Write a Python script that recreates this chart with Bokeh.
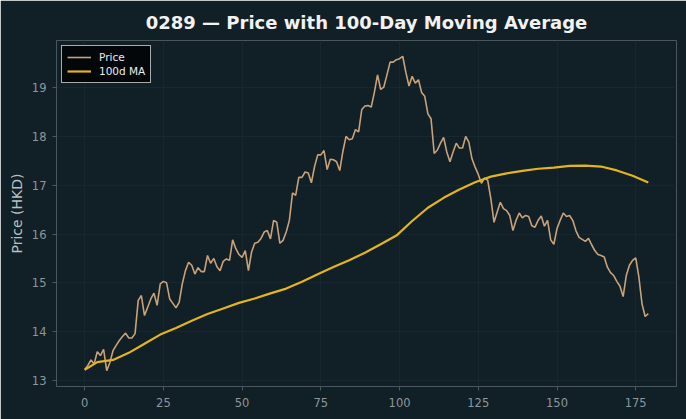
from bokeh.plotting import figure
from bokeh.models import Range1d, SingleIntervalTicker, Legend, LegendItem
from bokeh.embed import file_html
from bokeh.resources import INLINE

# ---- data ----
day = list(range(180))
price = [
    13.22, 13.31, 13.42, 13.34, 13.59, 13.51, 13.64, 13.20, 13.37, 13.61,
    13.72, 13.82, 13.90, 13.97, 13.87, 13.87, 13.96, 14.64, 14.74, 14.33,
    14.50, 14.67, 14.79, 14.54, 14.98, 15.03, 15.00, 14.67, 14.58, 14.49,
    14.60, 14.98, 15.25, 15.42, 15.36, 15.18, 15.31, 15.23, 15.23, 15.56,
    15.40, 15.50, 15.33, 15.25, 15.44, 15.49, 15.46, 15.88, 15.70, 15.58,
    15.52, 15.66, 15.25, 15.63, 15.81, 15.83, 15.91, 16.04, 16.07, 15.90,
    16.28, 16.24, 15.81, 15.87, 16.04, 16.28, 16.84, 16.79, 17.16, 17.16,
    17.27, 17.25, 17.05, 17.38, 17.62, 17.62, 17.71, 17.32, 17.53, 17.52,
    17.48, 17.30, 17.69, 18.00, 17.93, 17.95, 18.14, 18.09, 18.55, 18.62,
    18.63, 18.60, 18.90, 19.26, 18.96, 19.01, 19.26, 19.52, 19.52, 19.57,
    19.59, 19.64, 19.31, 19.03, 19.23, 19.09, 19.16, 18.90, 18.82, 18.46,
    18.36, 17.65, 17.72, 17.86, 17.98, 17.68, 17.48, 17.68, 17.86, 17.76,
    17.76, 18.00, 17.88, 17.54, 17.37, 17.22, 17.04, 17.15, 17.10, 16.72,
    16.24, 16.45, 16.65, 16.52, 16.48, 16.38, 16.07, 16.28, 16.43, 16.33,
    16.38, 16.36, 16.17, 16.14, 16.28, 16.37, 16.16, 16.28, 15.88, 15.79,
    16.11, 16.28, 16.43, 16.36, 16.38, 16.28, 16.07, 15.93, 15.89, 15.85,
    15.91, 15.78, 15.66, 15.58, 15.56, 15.53, 15.32, 15.21, 15.15, 15.03,
    14.93, 14.72, 15.15, 15.36, 15.46, 15.51, 15.12, 14.57, 14.31, 14.37,
]
ma_day = [0, 4, 9, 14, 19, 24, 29, 34, 39, 44, 49, 54, 59, 64, 69, 74, 79, 84,
          89, 94, 99, 104, 109, 114, 119, 124, 129, 134, 139, 144, 149, 154,
          159, 164, 169, 174, 179]
ma_value = [13.22, 13.376, 13.421, 13.566, 13.752, 13.940, 14.076, 14.225,
            14.360, 14.474, 14.589, 14.678, 14.784, 14.882, 15.022, 15.175,
            15.322, 15.461, 15.617, 15.789, 15.968, 16.267, 16.538, 16.741,
            16.910, 17.061, 17.175, 17.243, 17.292, 17.337, 17.360, 17.397,
            17.400, 17.382, 17.302, 17.193, 17.055]

title_text = "0289 \u2014 Price with 100-Day Moving Average"
y_label = "Price (HKD)"
series_names = ["Price", "100d MA"]

# ---- style ----
BG = "#111f26"
PRICE_C = "#c9a27a"
MA_C = "#e3b41c"
AXIS_C = "#4a575e"
TICK_TXT = "#8d979c"
GRID_C = "#172730"
FONT = "DejaVu Sans"

p = figure(width=686, height=419, output_backend="svg", toolbar_location=None,
           x_range=Range1d(-8.95, 187.95), y_range=Range1d(12.877, 19.963),
           min_border_left=56, min_border_right=10, min_border_top=40,
           min_border_bottom=33, background_fill_color=BG,
           border_fill_color=BG, outline_line_color=None)

p.title.text = title_text
p.title.align = "center"
p.title.text_font = FONT
p.title.text_font_size = "18px"
p.title.text_font_style = "bold"
p.title.text_color = "#f2f2f2"
p.title.standoff = 15

r_price = p.line(day, price, line_color=PRICE_C, line_width=1.6)
r_ma = p.line(ma_day, ma_value, line_color=MA_C, line_width=2.2)

for ax in (p.xaxis[0], p.yaxis[0]):
    ax.axis_line_color = AXIS_C
    ax.major_tick_line_color = AXIS_C
    ax.minor_tick_line_color = None
    ax.major_tick_in = 0
    ax.major_tick_out = 4
    ax.major_label_text_color = TICK_TXT
    ax.major_label_text_font = FONT
    ax.major_label_text_font_size = "11.5px"

p.xaxis[0].ticker = SingleIntervalTicker(interval=25)
p.yaxis[0].ticker = SingleIntervalTicker(interval=1)
p.xaxis[0].major_label_standoff = 7
p.yaxis[0].major_label_standoff = 6
p.yaxis[0].axis_label = y_label
p.yaxis[0].axis_label_text_font = FONT
p.yaxis[0].axis_label_text_font_size = "14px"
p.yaxis[0].axis_label_text_font_style = "normal"
p.yaxis[0].axis_label_text_color = "#b9c0c4"
p.yaxis[0].axis_label_standoff = 4

p.xgrid.grid_line_color = GRID_C
p.ygrid.grid_line_color = GRID_C
p.xgrid.grid_line_width = 1
p.ygrid.grid_line_width = 1

legend = Legend(items=[LegendItem(label=series_names[0], renderers=[r_price]),
                       LegendItem(label=series_names[1], renderers=[r_ma])],
                location="top_left")
legend.margin = 5
legend.padding = 5
legend.spacing = 2
legend.glyph_width = 24
legend.glyph_height = 12
legend.label_height = 12
legend.label_standoff = 8
legend.label_text_font = FONT
legend.label_text_font_size = "10.5px"
legend.label_text_color = "#ececec"
legend.background_fill_color = "#030608"
legend.background_fill_alpha = 0.95
legend.border_line_color = "#c8c8c8"
legend.border_line_width = 1
legend.border_line_alpha = 0.85
p.add_layout(legend)

open("out.html", "w").write(file_html(p, INLINE))
